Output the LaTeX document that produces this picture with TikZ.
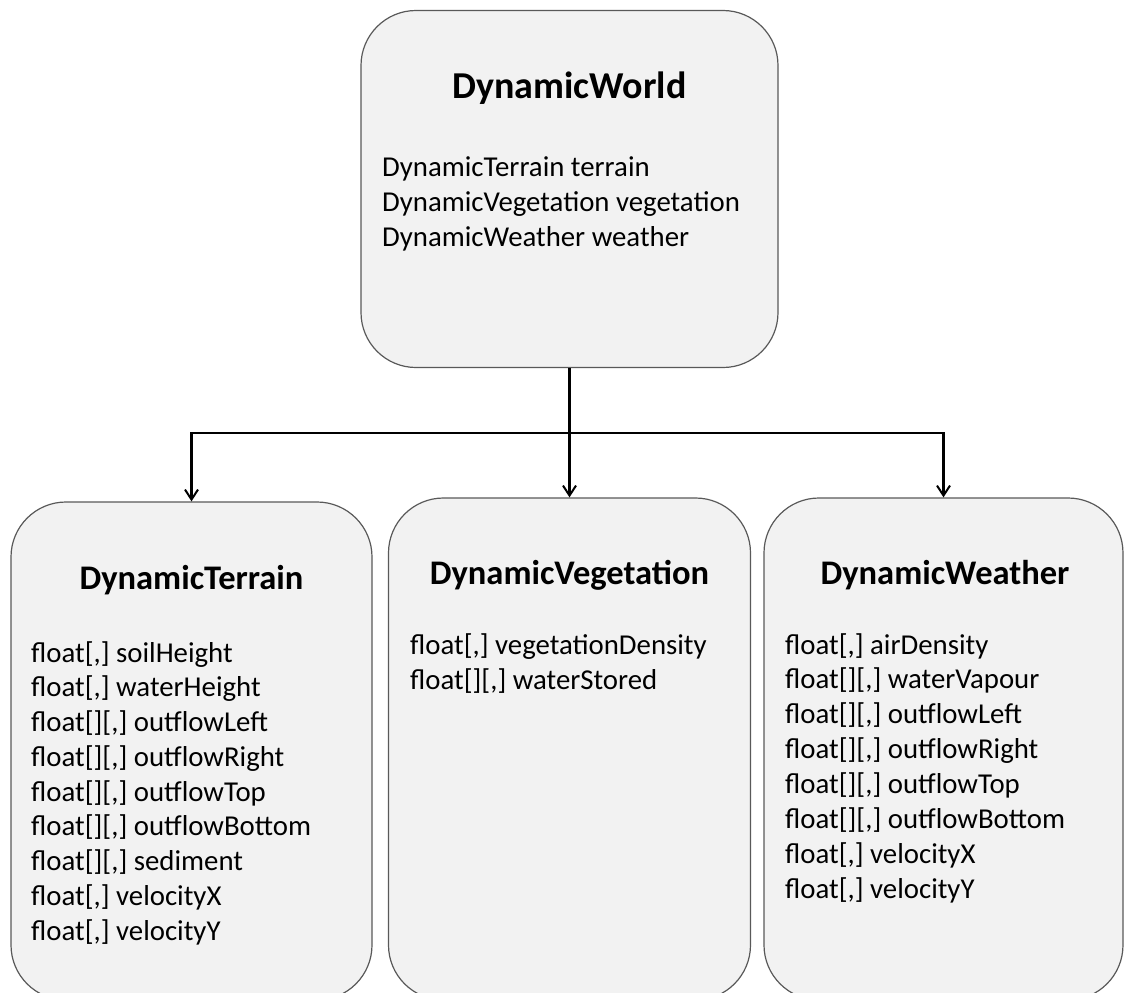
\documentclass[tikz,border=0pt]{standalone}
\usepackage{fontspec}
\setmainfont{Carlito}
\usetikzlibrary{arrows.meta}
\definecolor{boxfill}{HTML}{F2F2F2}
\definecolor{boxline}{HTML}{595959}
\begin{document}
\begin{tikzpicture}[x=1pt,y=-1pt,
  classbox/.style={draw=boxline, line width=1.2pt, fill=boxfill, rounded corners=55pt, inner sep=0pt},
  conn/.style={line width=2.6pt, draw=black},
  arr/.style={-{Straight Barb[length=10pt,width=13pt,line width=2pt]}},
  bigtitle/.style={font=\bfseries\fontsize{38}{45}\selectfont, inner sep=0pt, anchor=base},
  subtitle/.style={font=\bfseries\fontsize{34.5}{41}\selectfont, inner sep=0pt, anchor=base},
  member/.style={font=\fontsize{28.8}{35}\selectfont, inner sep=0pt, anchor=base west}
]
\useasboundingbox (0,0) rectangle (1125,993);
\clip (0,0) rectangle (1125,993);

% boxes
\node[classbox, minimum width=417pt, minimum height=357pt] (world) at (569.5,189) {};
\node[classbox, minimum width=361pt, minimum height=498pt] (terrain) at (191.5,751) {};
\node[classbox, minimum width=362pt, minimum height=502pt] (veg) at (569.5,749) {};
\node[classbox, minimum width=359pt, minimum height=502pt] (weather) at (943.5,749) {};

% connectors
\coordinate (j) at (569.5,433);
\draw[conn] (world.south) -- (j);
\draw[conn,arr] (j) -| (terrain.north);
\draw[conn,arr] (j) -| (weather.north);
\draw[conn,arr] (j) -- (veg.north);

% titles
\node[bigtitle] (worldtitle) at (569.5,98) {DynamicWorld};
\node[subtitle] (terraintitle) at (191.5,589) {DynamicTerrain};
\node[subtitle] (vegtitle) at (569.5,584) {DynamicVegetation};
\node[subtitle] (weathertitle) at (945,584) {DynamicWeather};

% members
\foreach \t [count=\i] in {{DynamicTerrain terrain},{DynamicVegetation vegetation},{DynamicWeather weather}}
  \node[member] (d\i) at (382,{176+35*(\i-1)}) {\t};

\foreach \t [count=\i] in {{float[,] soilHeight},{float[,] waterHeight},{float[][,] outflowLeft},{float[][,] outflowRight},{float[][,] outflowTop},{float[][,] outflowBottom},{float[][,] sediment},{float[,] velocityX},{float[,] velocityY}}
  \node[member] (t\i) at (31,{662+34.75*(\i-1)}) {\t};

\foreach \t [count=\i] in {{float[,] vegetationDensity},{float[][,] waterStored}}
  \node[member] (v\i) at (410,{654+35*(\i-1)}) {\t};

\foreach \t [count=\i] in {{float[,] airDensity},{float[][,] waterVapour},{float[][,] outflowLeft},{float[][,] outflowRight},{float[][,] outflowTop},{float[][,] outflowBottom},{float[,] velocityX},{float[,] velocityY}}
  \node[member] (w\i) at (785,{654+34.9*(\i-1)}) {\t};
\end{tikzpicture}
\end{document}
